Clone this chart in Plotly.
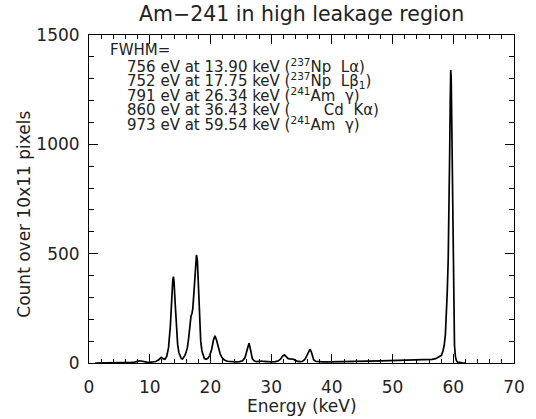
import plotly.graph_objects as go

###############################################################################
# Spectrum (energy in keV, counts per 10x11 pixels)
###############################################################################
energy_kev = [
    1.0, 2.0, 3.0, 4.0, 5.0, 6.0, 7.0, 7.5, 8.0, 8.3, 8.6, 9.0, 9.5, 10.0,
    10.5, 11.0, 11.5, 11.9, 12.2, 12.5, 12.8, 13.1, 13.4, 13.6, 13.8, 13.9,
    14.0, 14.2, 14.4, 14.6, 14.8, 15.0, 15.2, 15.4, 15.6, 15.8, 16.0, 16.2,
    16.4, 16.6, 16.8, 16.95, 17.1, 17.3, 17.5, 17.7, 17.85, 18.0, 18.2, 18.4,
    18.6, 18.8, 19.0, 19.3, 19.6, 19.9, 20.2, 20.5, 20.75, 21.0, 21.3, 21.6,
    21.9, 22.3, 22.8, 23.5, 24.2, 24.8, 25.3, 25.7, 26.0, 26.2, 26.35, 26.5,
    26.7, 26.9, 27.2, 27.6, 28.0, 28.4, 28.8, 29.3, 30.0, 30.7, 31.2, 31.6,
    31.9, 32.2, 32.5, 32.8, 33.1, 33.4, 33.7, 34.0, 34.4, 34.8, 35.2, 35.6,
    35.9, 36.2, 36.4, 36.6, 36.8, 37.0, 37.3, 37.8, 38.5, 39.5, 40.5, 42.0,
    44.0, 46.0, 48.0, 50.0, 52.0, 53.5, 55.0, 55.8, 56.5, 57.1, 57.6, 58.05,
    58.3, 58.5, 58.7, 58.85, 59.0, 59.16, 59.3, 59.4, 59.5, 59.58, 59.66,
    59.75, 59.85, 59.97, 60.1, 60.2, 60.35, 60.5, 60.7, 61.0, 61.5, 62.0,
]
counts = [
    0, 0, 0, 1, 1, 2, 3, 4, 9, 10, 9, 6, 4, 3,
    4, 7, 15, 26, 20, 17, 30, 70, 170, 290, 380, 395,
    375, 270, 150, 85, 48, 28, 20, 18, 24, 35, 50, 70,
    110, 170, 215, 225, 250, 330, 440, 494, 470, 360, 200, 100,
    55, 30, 20, 17, 22, 35, 62, 105, 124, 105, 70, 42,
    25, 14, 8, 6, 5, 6, 10, 25, 60, 85, 90, 75,
    40, 20, 10, 6, 7, 9, 7, 5, 5, 6, 10, 20,
    32, 37, 28, 20, 19, 18, 17, 12, 7, 6, 8, 18,
    38, 58, 63, 52, 30, 15, 8, 6, 5, 5, 6, 7,
    8, 9, 10, 11, 12, 13, 15, 14, 17, 20, 26, 35,
    55, 80, 130, 200, 320, 470, 680, 950, 1200, 1340, 1300,
    1100, 820, 470, 200, 80, 30, 12, 4, 2, 1, 0,
]

# FWHM table in the upper left corner
fwhm_ev = [756, 752, 791, 860, 973]
line_kev = ['13.90', '17.75', '26.34', '36.43', '59.54']
line_names = [
    '(<sup>237</sup>Np  Lα)',
    '(<sup>237</sup>Np  Lβ<sub>1</sub>)',
    '(<sup>241</sup>Am  γ)',
    '(       Cd  Kα)',
    '(<sup>241</sup>Am  γ)',
]

x_ticks = [0, 10, 20, 30, 40, 50, 60, 70]
y_ticks = [0, 500, 1000, 1500]

###############################################################################
# Figure
###############################################################################
(W, H) = (536, 419)
(L, R, T, B) = (89, 11, 35, 56)
FONT = 'DejaVu Sans'
INK = '#222222'


def px(xp, yp):
    # pixel position -> paper coordinates
    return ((xp - L) / (W - L - R), (H - B - yp) / (H - T - B))


fig = go.Figure()
fig.add_trace(
    go.Scatter(
        x=energy_kev, y=counts, mode='lines',
        line={'color': 'black', 'width': 1.7, 'shape': 'linear'},
        showlegend=False,
    )
)

axis_common = dict(
    showgrid=False, zeroline=False, showline=True, linecolor='black',
    linewidth=1, mirror='allticks', ticks='inside', ticklen=9,
    tickcolor='black', tickwidth=1,
    tickfont={'family': FONT, 'size': 17, 'color': INK},
)
fig.update_xaxes(
    range=[0, 70], tickvals=x_ticks, ticklabelstandoff=9,
    minor={'dtick': 2, 'ticks': 'inside', 'ticklen': 4, 'tickcolor': 'black'},
    **axis_common
)
fig.update_yaxes(
    range=[0, 1500], tickvals=y_ticks, ticklabelstandoff=5,
    minor={'dtick': 100, 'ticks': 'inside', 'ticklen': 5, 'tickcolor': 'black'},
    **axis_common
)

annotations = []
(ax, ay) = px(109, 50)
annotations.append(dict(
    x=ax, y=ay, xref='paper', yref='paper', text='FWHM=', showarrow=False,
    xanchor='left', yanchor='middle',
    font={'family': FONT, 'size': 15, 'color': INK},
))
for i, (fw, ke, nm) in enumerate(zip(fwhm_ev, line_kev, line_names)):
    (ax, ay) = px(126, 66 + 14.6 * i)
    annotations.append(dict(
        x=ax, y=ay, xref='paper', yref='paper',
        text=f'{fw} eV at {ke} keV {nm}',
        showarrow=False, xanchor='left', yanchor='middle',
        font={'family': FONT, 'size': 15, 'color': INK},
    ))

# titles
(ax, ay) = px(307, 406)
annotations.append(dict(
    x=ax, y=ay, xref='paper', yref='paper', text='Energy (keV)',
    showarrow=False, xanchor='center', yanchor='middle',
    font={'family': FONT, 'size': 17, 'color': INK},
))
(ax, ay) = px(22, 214)
annotations.append(dict(
    x=ax, y=ay, xref='paper', yref='paper', text='Count over 10x11 pixels',
    showarrow=False, xanchor='center', yanchor='middle', textangle=-90,
    font={'family': FONT, 'size': 17, 'color': INK},
))
(ax, ay) = px(307, 14)
annotations.append(dict(
    x=ax, y=ay, xref='paper', yref='paper', text='Am−241 in high leakage region',
    showarrow=False, xanchor='center', yanchor='middle',
    font={'family': FONT, 'size': 20.5, 'color': INK},
))

fig.update_layout(
    width=W, height=H,
    margin={'l': L, 'r': R, 't': T, 'b': B, 'pad': 0},
    paper_bgcolor='white', plot_bgcolor='white',
    annotations=annotations,
)
fig.write_html(
    'out.html', config={'displayModeBar': False},
    post_script="document.body.style.margin='0';",
)
